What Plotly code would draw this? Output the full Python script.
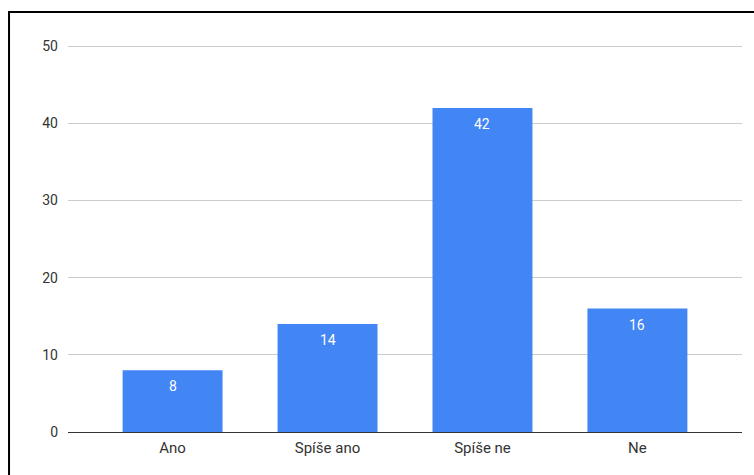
import plotly.graph_objects as go

categories = ["Ano", "Spíše ano", "Spíše ne", "Ne"]
counts = [8, 14, 42, 16]
y_ticks = [0, 10, 20, 30, 40, 50]

FONT = "Roboto, Arial, sans-serif"

fig = go.Figure()
fig.add_trace(go.Bar(
    x=categories,
    y=counts,
    marker=dict(color="#4285F4", line=dict(width=0)),
    width=0.645,
    hoverinfo="x+y",
))

# value labels just inside the top of each bar
for cat, val in zip(categories, counts):
    fig.add_annotation(
        x=cat, y=val, text=str(val), showarrow=False,
        yanchor="top", yshift=-6,
        font=dict(family=FONT, size=14, color="#ffffff"),
    )

# black frame around the chart
fig.add_shape(
    type="rect", xref="paper", yref="paper",
    x0=-0.0875, x1=1.2, y0=-0.3, y1=1.0855,
    line=dict(color="#000000", width=2), fillcolor="rgba(0,0,0,0)",
    layer="above",
)

fig.update_layout(
    width=754, height=475,
    margin=dict(l=68, r=12, t=45, b=43),
    paper_bgcolor="#ffffff", plot_bgcolor="#ffffff",
    showlegend=False,
    font=dict(family=FONT, size=14, color="#444444"),
    xaxis=dict(
        range=[-0.675, 3.675], showgrid=False, zeroline=False,
        showline=False, ticks="", ticklabelstandoff=5,
        tickfont=dict(family=FONT, size=15, color="#333333"),
        fixedrange=True,
    ),
    yaxis=dict(
        range=[0, 50.15], tickvals=y_ticks, showgrid=True, gridcolor="#cccccc",
        gridwidth=1, zeroline=True, zerolinecolor="#333333", zerolinewidth=1,
        showline=False, ticks="", ticklabelstandoff=9,
        tickfont=dict(family=FONT, size=14, color="#333333"),
        fixedrange=True,
    ),
)

fig.write_html("out.html")
